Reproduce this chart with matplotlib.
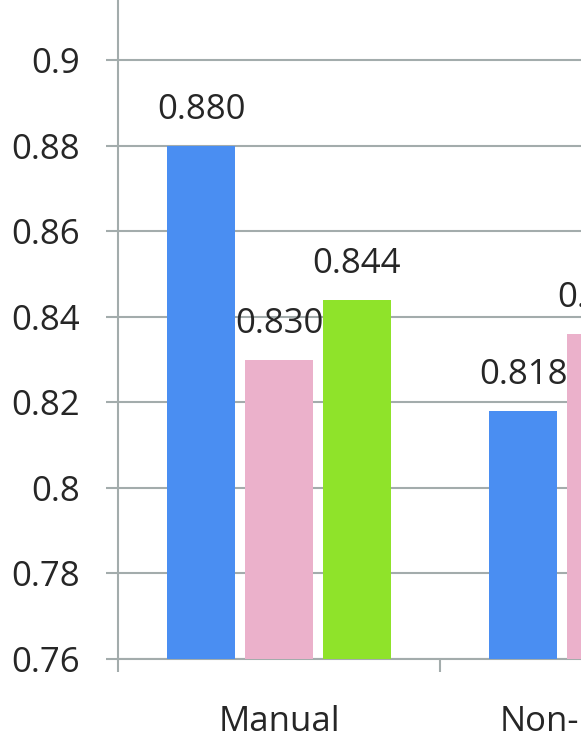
import matplotlib
matplotlib.use("Agg")
import matplotlib.pyplot as plt
import numpy as np

categories = ["Manual", "Non-manual"]
series_names = ["Series A", "Series B", "Series C"]
values_a = [0.880, 0.818]
values_b = [0.830, 0.836]
values_c = [0.844, 0.850]
yticks = [0.76, 0.78, 0.8, 0.82, 0.84, 0.86, 0.88, 0.9]
ytick_labels = ["0.76", "0.78", "0.8", "0.82", "0.84", "0.86", "0.88", "0.9"]

colors = ["#4A8EF2", "#EBB1CB", "#8FE32A"]
grid_col = "#A3ACAC"
text_col = "#262626"

plt.rcParams['font.family'] = ['Open Sans', 'DejaVu Sans']

fig = plt.figure(figsize=(5.81, 7.52), dpi=100)
ax = fig.add_axes([118/581, 93/752, 644/581, (659 + 25.3)/752])

x = np.arange(len(categories))
offs = [-0.241, 0.0, 0.241]
w = 0.211
for vals, off, c in zip([values_a, values_b, values_c], offs, colors):
    bars = ax.bar(x + off, [v - 0.76 for v in vals], width=w, bottom=0.76, color=c, zorder=3)
    for xi, v in zip(x + off, vals):
        ax.annotate(f"{v:.3f}", (xi, v), xytext=(0, 19.5), textcoords="offset points",
                    ha="center", va="baseline", fontsize=25, color=text_col, zorder=4)

ax.set_xlim(-0.5, len(categories) - 0.5)
ax.set_ylim(0.76, 0.92)
ax.set_yticks(yticks)
ax.set_yticklabels(ytick_labels)
ax.set_xticks(x)
ax.set_xticklabels(categories)
ax.set_xticks(np.arange(len(categories) + 1) - 0.5, minor=True)

ax.yaxis.grid(True, color=grid_col, linewidth=1.5, zorder=0)
ax.set_axisbelow(True)
for s in ["top", "right"]:
    ax.spines[s].set_visible(False)
for s in ["left", "bottom"]:
    ax.spines[s].set_color(grid_col)
    ax.spines[s].set_linewidth(1.5)

ax.tick_params(axis="y", length=8.5, width=1.5, color=grid_col, pad=19, labelsize=25, labelcolor=text_col)
ax.tick_params(axis="x", which="major", length=0, pad=33, labelsize=25, labelcolor=text_col)
ax.tick_params(axis="x", which="minor", length=9.5, width=1.5, color=grid_col)

fig.savefig("out.png", dpi=100)
